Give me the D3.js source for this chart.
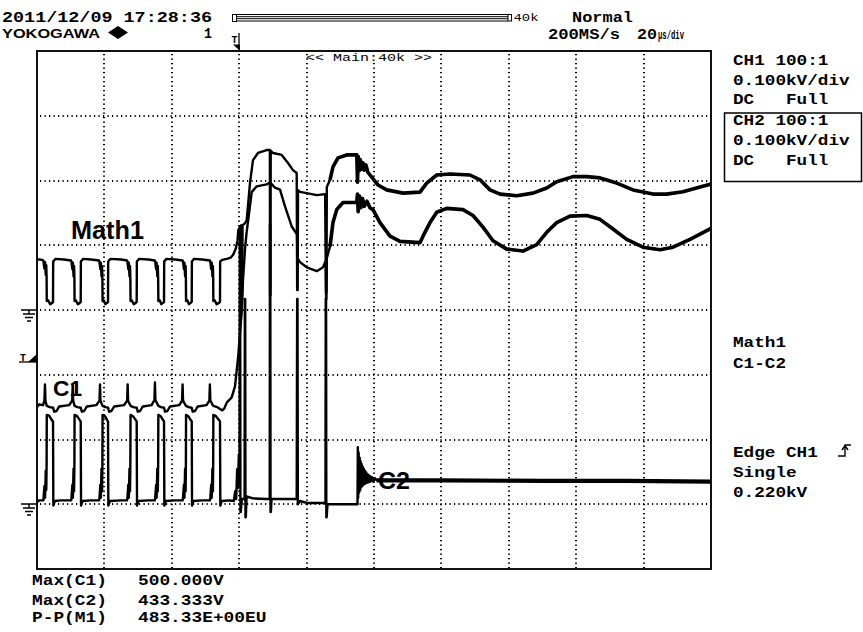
<!DOCTYPE html>
<html><head><meta charset="utf-8">
<script src="https://cdn.jsdelivr.net/npm/d3@7"></script>
<style>html,body{margin:0;padding:0;background:#fff;} svg{display:block;}</style>
</head><body><svg id="c" width="863" height="632"></svg>
<script>
// ---- data (time in µs, values in volts) ----
const timeDivTicks = [20, 40, 60, 80, 100, 120, 140, 160, 180];
const levelDivTicks = [-3, -2, -1, 0, 1, 2, 3];
const voltsPerDiv = { C1: 100, C2: 100, Math1: 200 };
const groundDiv = { C1: -3, C2: -3, Math1: 0 };
const triggerLevel = 220; // V on CH1

const math1 = [[0,157],[1.5,155],
[1.9,152],[2.2,128],[2.4,148],[2.6,108],[2.75,138],[2.85,100],[2.9,28],[3.3,30],[3.9,18],[4.5,22],[4.75,25],[4.8,150],[5.5,158],[8,156],[10.1,153],
[10.2,150],[10.5,126],[10.65,146],[10.85,104],[11.0,136],[11.1,98],[11.15,28],[11.5,30],[12.1,18],[12.7,22],[12.97,25],[13.02,150],[13.7,158],[16,156],[18.4,153],
[18.5,150],[18.8,126],[18.95,146],[19.15,104],[19.3,136],[19.4,98],[19.46,28],[19.8,30],[20.3,18],[20.8,22],[21.07,25],[21.12,150],[21.8,158],[25,156],[26.7,153],
[26.8,150],[27.1,126],[27.25,146],[27.45,104],[27.6,136],[27.7,98],[27.76,28],[28.1,30],[28.7,18],[29.3,22],[29.58,25],[29.63,150],[30.3,158],[33,156],[34.95,153],
[35.05,150],[35.35,126],[35.5,146],[35.7,104],[35.85,136],[35.95,98],[36.01,28],[36.4,30],[36.9,18],[37.4,22],[37.69,25],[37.74,150],[38.4,158],[41,156],[43.2,153],
[43.3,150],[43.6,126],[43.75,146],[43.95,104],[44.1,136],[44.18,98],[44.23,28],[44.6,30],[45.1,18],[45.6,22],[45.91,25],[45.96,150],[46.6,158],[49,156],[51.3,153],
[51.4,150],[51.7,126],[51.85,146],[52.05,104],[52.2,136],[52.28,98],[52.33,28],[52.7,30],[53.3,18],[54.0,22],[54.3,25],[54.35,150],[55,155],[56.3,158],[57.5,162],[58.16,170],[59.0,190],[59.5,215],[59.73,247],[60.2,255],[60.6,262],[60.75,31],[60.85,31],[61.0,262],[61.72,268],[62.23,278],[63.2,392],[64.09,463],[65.58,485],[68.16,494],[69.1,494],[69.15,46],[69.3,46],[69.35,492],[70.03,485],[72.61,479],[74.48,454],[75.96,432],[77.06,423],[77.2,62],[77.35,62],[77.45,370],[78.04,365],[80.03,361],[83.0,355],[85.5,358],[85.75,53],[85.9,53],[86.0,380],[86.94,402],[87.83,442],[89.32,470],[91.9,479],[94.9,479],[95.1,395],[95.3,475],[95.6,430],[95.9,465],[96.3,435],[96.7,455],[97.1,432],[97.6,448],[98.2,425],[98.81,417],[101.19,386],[103.77,371],[108.61,361],[113.65,364],[115.64,392],[118.61,417],[122.55,420],[128.49,417],[131.45,402],[134.42,371],[137.39,358],[142.34,353],[147.18,361],[151.25,377],[154.21,396],[159.05,412],[163.12,412],[167.06,408],[172.02,392],[176.85,371],[182.79,358],[186.85,358],[191.69,365],[196.74,380],[200,389]];

const c1 = [[0,150],[0.6,154],[1.8,153],[2.2,160],[2.37,185],[2.5,160],[2.9,152],[3.8,150],[4.8,149],[5.1,143],[5.8,144],[6.6,151],[9.5,153],
[10.45,160],[10.6,185],[10.73,160],[11.15,152],[12,150],[13.0,149],[13.3,143],[14,144],[14.8,151],[17.6,153],
[18.55,160],[18.7,185],[18.83,160],[19.45,152],[20.3,150],[21.1,149],[21.4,143],[22.1,144],[22.9,151],[25.8,153],
[26.75,160],[26.9,185],[27.03,160],[27.75,152],[28.6,150],[29.6,149],[29.9,143],[30.6,144],[31.4,151],[34,153],
[34.85,161],[35.0,188],[35.13,161],[36.0,152],[36.8,150],[37.7,149],[38.0,143],[38.7,144],[39.5,151],[42.2,153],
[43.05,160],[43.2,185],[43.33,160],[44.2,152],[45.0,150],[45.9,149],[46.2,143],[46.9,144],[47.7,151],[50.3,153],
[51.15,160],[51.3,185],[51.43,160],[52.3,152],[53.5,150],[54.3,147],[55,145],[55.6,148],[56.29,157],[57.77,165],[58.75,182],[59.73,229],[60.24,266],[60.74,296],[61.13,347],[61.72,394],[62.2,420],[62.7,440],[63.71,482],[65.19,491],[68.16,494],[69.14,497],[70.62,489],[72.11,486],[73.59,460],[75.58,429],[77.15,417],[77.3,380],[78.04,374],[80.03,366],[83.0,360],[84.87,366],[85.7,376],[85.78,317],[85.88,317],[86.0,380],[86.94,398],[87.83,435],[88.93,455],[90.8,466],[94.87,466],[95.1,479],[95.3,452],[95.7,476],[96.1,458],[96.6,472],[97.1,460],[97.92,468],[98.8,458],[99.7,455],[101.78,435],[104.75,414],[107.72,406],[113.65,404],[114.54,414],[116.62,435],[118.61,451],[121.57,457],[126.41,455],[129.38,446],[132.34,428],[135.31,407],[139.38,394],[144.21,391],[148.28,401],[151.25,420],[154.21,435],[158.16,445],[163.12,446],[167.06,440],[170.92,425],[174.99,409],[179.82,397],[184.87,393],[188.72,397],[193.77,409],[200,426]];

const c2 = [[0,3],[0.6,6],[1.9,6],[2.2,28],[2.4,10],[2.6,52],[2.75,22],[2.85,60],[2.9,138],[3.6,137],[4.4,130],[4.75,128],[4.85,-2],[5.3,5],[7,6],[10.1,6],
[10.2,8],[10.5,30],[10.65,10],[10.85,55],[11.0,20],[11.1,62],[11.15,138],[11.9,136],[12.7,130],[12.97,128],[13.07,-2],[13.5,5],[16,6],[18.4,6],
[18.5,8],[18.8,30],[18.95,10],[19.15,55],[19.3,20],[19.4,62],[19.46,138],[20.2,136],[20.8,130],[21.07,128],[21.17,-2],[21.6,5],[25,6],[26.7,6],
[26.8,8],[27.1,30],[27.25,10],[27.45,55],[27.6,20],[27.7,62],[27.76,138],[28.5,136],[29.3,130],[29.58,128],[29.68,-2],[30.1,5],[33,6],[34.95,6],
[35.05,8],[35.35,30],[35.5,10],[35.7,55],[35.85,20],[35.95,62],[36.01,138],[36.7,136],[37.4,130],[37.69,128],[37.79,-2],[38.2,5],[41,6],[43.2,6],
[43.3,8],[43.6,30],[43.75,10],[43.95,55],[44.1,20],[44.18,62],[44.23,138],[44.9,136],[45.6,130],[45.91,128],[46.01,-2],[46.4,5],[49,6],[51.3,6],
[51.4,8],[51.7,30],[51.85,10],[52.05,55],[52.2,20],[52.28,62],[52.33,138],[53.1,136],[54.0,130],[54.3,128],[54.4,-2],[54.8,5],[57,6],[58.4,5],
[58.8,20],[59.1,8],[59.4,54],[59.6,25],[59.9,77],[60.1,60],[60.18,429],[60.28,429],[60.36,-12],[60.46,-12],[60.8,8],[61.6,8],[61.68,317],[61.78,317],[61.86,-20],[61.96,-20],[62.2,12],[64.1,9],[68.2,8],[69.05,8],[69.12,432],[69.22,432],[69.3,-12],[69.4,-12],[69.6,8],[70,8],[77.06,8],[77.2,317],[77.3,317],[77.4,0],[78.04,5],[80.03,2],[84.9,2],[85.6,2],[85.68,317],[85.78,317],[85.86,-20],[85.96,-20],[86.2,0],[94.87,0],[95.1,0],[95.2,88],[95.3,10],[95.45,80],[95.6,18],[95.75,72],[95.9,22],[96.05,66],[96.2,26],[96.35,62],[96.5,28],[96.65,58],[96.8,30],[96.95,55],[97.1,31],[97.3,52],[97.5,32],[97.7,49],[97.9,33],[98.15,46],[98.4,34],[98.7,44],[99.0,35],[99.4,42],[99.8,35],[100.3,40],[100.8,37],[120,37],[150,36],[175,36],[200,35]];

const headerTexts = { date: "2011/12/09 17:28:36", brand: "YOKOGAWA", page: "1", mode: "Normal", rate: "200MS/s", tdivNum: "20", tdivUnit: "μs/div", recLen: "40k", zoom: "<< Main:40k >>" };
const ch1Info = ["CH1 100:1", "0.100kV/div"];
const ch2Info = ["CH2 100:1", "0.100kV/div"];
const mathInfo = ["Math1", "C1-C2"];
const trigInfo = ["Edge CH1", "Single", "0.220kV"];
const measNames = ["Max(C1)", "Max(C2)", "P-P(M1)"];
const measValues = ["500.000V", "433.333V", "483.33E+00EU"];

// ---- drawing ----
const svg = d3.select('#c');
svg.append('rect').attr('width', 863).attr('height', 632).attr('fill', '#fff');
const L = 37, R = 711, T = 51, B = 569;
const x = d3.scaleLinear().domain([0, 200]).range([L, R]);
const yDiv = d3.scaleLinear().domain([-4, 4]).range([B, T]);
const MONO = '"Liberation Mono","DejaVu Sans Mono",monospace';
const SANS = '"Liberation Sans",Arial,sans-serif';

function txt(px, py, s, o = {}) {
  const t = svg.append('text').attr('x', px).attr('y', py).text(s)
    .attr('font-family', o.font || MONO).attr('font-size', o.size || 15)
    .attr('font-weight', o.weight || 'bold').attr('fill', '#000');
  if (o.len) t.attr('textLength', o.len).attr('lengthAdjust', 'spacingAndGlyphs');
  return t;
}

// grid (dotted)
const grid = svg.append('g').attr('stroke', '#000').attr('stroke-width', 2)
  .attr('stroke-dasharray', '1.2 3.3');
grid.selectAll('line.v').data(timeDivTicks).enter().append('line')
  .attr('x1', d => Math.round(x(d))).attr('x2', d => Math.round(x(d))).attr('y1', T + 3).attr('y2', B);
grid.selectAll('line.h').data(levelDivTicks).enter().append('line')
  .attr('y1', d => Math.round(yDiv(d))).attr('y2', d => Math.round(yDiv(d))).attr('x1', L + 3).attr('x2', R);

// zoom label
svg.append('rect').attr('x', 308).attr('y', 52).attr('width', 122).attr('height', 11).attr('fill', '#fff');
txt(306, 61, headerTexts.zoom, { size: 11, weight: 'normal', len: 126 });

// traces
svg.append('clipPath').attr('id', 'clp').append('rect').attr('x', L).attr('y', T).attr('width', R - L).attr('height', B - T);
const tg = svg.append('g').attr('clip-path', 'url(#clp)');
function trace(data, ch, w, from, wThick) {
  const g = groundDiv[ch], v = voltsPerDiv[ch];
  const ln = d3.line().x(d => x(d[0])).y(d => yDiv(d[1] / v + g));
  tg.append('path').attr('d', ln(data)).attr('fill', 'none').attr('stroke', '#000')
    .attr('stroke-width', w).attr('stroke-linejoin', 'round');
  if (from != null) {
    tg.append('path').attr('d', ln(data.filter(d => d[0] >= from))).attr('fill', 'none').attr('stroke', '#000')
      .attr('stroke-width', wThick).attr('stroke-linejoin', 'round');
  }
}
trace(c2, 'C2', 2.4, 100.8, 4.2);
trace(c1, 'C1', 2.4, 86.2, 3.6);
trace(math1, 'Math1', 2.4, 86.2, 3.6);

// frame
svg.append('rect').attr('x', L).attr('y', T).attr('width', R - L).attr('height', B - T)
  .attr('fill', 'none').attr('stroke', '#111').attr('stroke-width', 2);

// ground markers
function ground(yv) {
  svg.append('path').attr('d', `M21,${yv}H37M29,${yv}V${yv + 4}M23,${yv + 4}H35M25,${yv + 7.5}H33M27,${yv + 11}H31`)
    .attr('stroke', '#000').attr('stroke-width', 1.4).attr('fill', 'none');
}
ground(Math.round(yDiv(groundDiv.Math1)));
ground(Math.round(yDiv(groundDiv.C1)));

// trigger level marker
const ty = Math.round(yDiv(triggerLevel / voltsPerDiv.C1 + groundDiv.C1));
svg.append('path').attr('d', `M19,${ty}H37`).attr('stroke', '#000').attr('stroke-width', 1.3);
txt(20, ty - 1.5, 'T', { size: 10, len: 6 });
svg.append('path').attr('d', `M28,${ty}L37,${ty}L37,${ty - 8}Z`).attr('fill', '#000');

// trigger position marker (top)
const tx = Math.round(x(60));
txt(tx - 7.5, 42.5, 'T', { size: 11, len: 6 });
svg.append('path').attr('d', `M${tx},33V45`).attr('stroke', '#000').attr('stroke-width', 1.3);
svg.append('path').attr('d', `M${tx - 6},44.5L${tx + 1},44.5L${tx + 1},51Z`).attr('fill', '#000');

// header
txt(2, 21.5, headerTexts.date, { size: 14, len: 210 });
txt(2, 37.5, headerTexts.brand, { font: SANS, size: 13, len: 98 });
svg.append('path').attr('d', 'M108,32.5L118,26L128,32.5L118,39Z').attr('fill', '#000');
txt(204, 37.5, headerTexts.page, { size: 15, len: 8 });
// record bar
const bar = svg.append('g').attr('stroke', '#000').attr('stroke-width', 1).attr('fill', 'none');
bar.append('rect').attr('x', 232.5).attr('y', 14.5).attr('width', 4).attr('height', 7);
bar.append('path').attr('d', 'M236.5,14.5H508M236.5,16.7H508M236.5,18.7H508M236.5,21H508');
bar.append('rect').attr('x', 508).attr('y', 14.5).attr('width', 3.5).attr('height', 6.5);
txt(513.5, 21, headerTexts.recLen, { size: 10, weight: 'normal', len: 25 });
txt(572, 21.7, headerTexts.mode, { size: 15, len: 61 });
txt(548, 38.5, headerTexts.rate, { size: 15, len: 72 });
txt(637, 38.5, headerTexts.tdivNum, { size: 15, len: 20 });
txt(658, 38.5, headerTexts.tdivUnit, { size: 12, len: 26 });

// right panel
const CW = 10.6;
txt(733, 65, ch1Info[0], { len: ch1Info[0].length * CW });
txt(733, 84.5, ch1Info[1], { len: ch1Info[1].length * CW });
txt(733, 104, 'DC', { len: 2 * CW });
txt(786, 104, 'Full', { len: 4 * CW });
svg.append('rect').attr('x', 724.5).attr('y', 113).attr('width', 137).attr('height', 68.5)
  .attr('fill', 'none').attr('stroke', '#000').attr('stroke-width', 1.5);
txt(733, 124.5, ch2Info[0], { len: ch2Info[0].length * CW });
txt(733, 144.5, ch2Info[1], { len: ch2Info[1].length * CW });
txt(733, 164.5, 'DC', { len: 2 * CW });
txt(786, 164.5, 'Full', { len: 4 * CW });
txt(733, 347, mathInfo[0], { len: mathInfo[0].length * CW });
txt(733, 368, mathInfo[1], { len: mathInfo[1].length * CW });
txt(733, 457, trigInfo[0], { len: trigInfo[0].length * CW });
svg.append('path').attr('d', 'M838,456H845V445H851M842,450L845,445.5L848,450')
  .attr('stroke', '#000').attr('stroke-width', 1.4).attr('fill', 'none');
txt(733, 477, trigInfo[1], { len: trigInfo[1].length * CW });
txt(733, 497, trigInfo[2], { len: trigInfo[2].length * CW });

// measurements
const my = [585, 604.5, 622];
measNames.forEach((n, i) => txt(32, my[i], n, { len: n.length * 10.7 }));
measValues.forEach((v, i) => txt(138, my[i], v, { len: v.length * 10.7 }));

// trace labels
txt(71, 238.5, 'Math1', { font: SANS, size: 25, len: 73 });
txt(53, 395.5, 'C1', { font: SANS, size: 22, len: 29 });
txt(378, 488.5, 'C2', { font: SANS, size: 24, len: 32 });
</script></body></html>
